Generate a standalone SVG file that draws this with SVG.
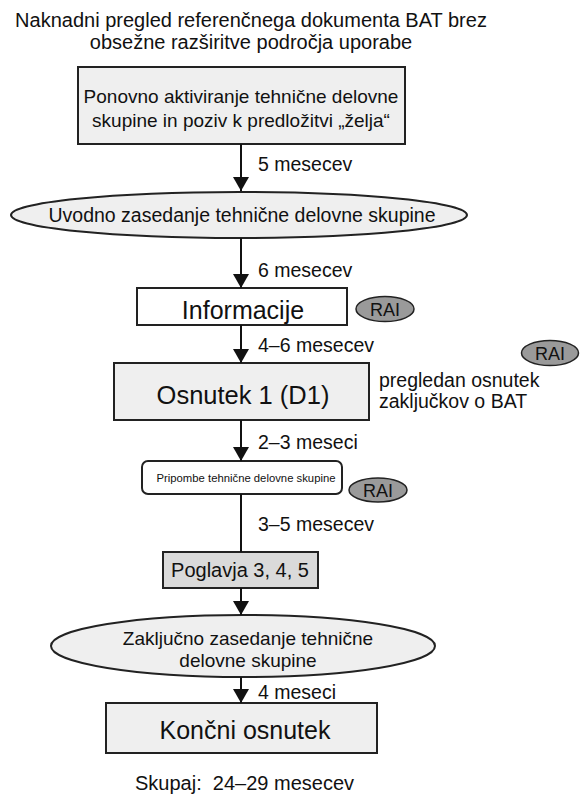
<svg xmlns="http://www.w3.org/2000/svg" width="585" height="794" viewBox="0 0 585 794">
<defs>
<marker id="ah" viewBox="0 0 14 16" refX="14" refY="8" markerWidth="14" markerHeight="16" markerUnits="userSpaceOnUse" orient="auto">
<path d="M0,0 L14,8 L0,16 z" fill="#111"/>
</marker>
<style>
text{font-family:"Liberation Sans",Arial,sans-serif;fill:#111}
.c{text-anchor:middle}
.t19{font-size:19.5px}
.node{stroke:#222;stroke-width:2}
.lt{fill:#efefef}
.wh{fill:#fff}
.dk{fill:#dadada}
.rai{fill:#9a9a9a;stroke:#222;stroke-width:1.5}
.rt{font-size:18px}
.conn{stroke:#111;stroke-width:2;fill:none}
.pre{white-space:pre}
</style>
</defs>
<rect width="585" height="794" fill="#fff"/>
<g id="title">
<text class="c" x="251" y="27" font-size="20">Naknadni pregled referenčnega dokumenta BAT brez</text>
<text class="c" x="251" y="49" font-size="20">obsežne razširitve področja uporabe</text>
</g>
<g id="n1">
<rect class="node lt" x="78" y="67" width="327" height="77"/>
<text class="c" x="241" y="103" font-size="19">Ponovno aktiviranje tehnične delovne</text>
<text class="c" x="241" y="127" font-size="19">skupine in poziv k predložitvi „želja“</text>
</g>
<g id="n2">
<ellipse class="node lt" cx="239" cy="215" rx="228" ry="23"/>
<text class="c t19" x="242" y="222">Uvodno zasedanje tehnične delovne skupine</text>
</g>
<g id="n3">
<rect class="node wh" x="137" y="288" width="210" height="37"/>
<text class="c" x="243" y="319" font-size="25">Informacije</text>
</g>
<g id="rai1">
<ellipse class="rai" cx="385" cy="309" rx="29" ry="12.5"/>
<text class="c rt" x="385" y="315.5">RAI</text>
</g>
<g id="n4">
<rect class="node lt" x="114" y="363" width="255" height="57"/>
<text class="c" x="243" y="404" font-size="25.5">Osnutek 1 (D1)</text>
</g>
<g id="note">
<text class="t19" x="379" y="387">pregledan osnutek</text>
<text class="t19" x="379" y="408">zaključkov o BAT</text>
</g>
<g id="rai2">
<ellipse class="rai" cx="550" cy="353" rx="28.5" ry="12.5"/>
<text class="c rt" x="550" y="359.5">RAI</text>
</g>
<g id="n5">
<rect class="node wh" x="142" y="461" width="200" height="33" rx="6"/>
<text class="c" x="246" y="482" font-size="11.3">Pripombe tehnične delovne skupine</text>
</g>
<g id="rai3">
<ellipse class="rai" cx="378" cy="490" rx="29" ry="12"/>
<text class="c rt" x="378" y="496.5">RAI</text>
</g>
<g id="n6">
<rect class="node dk" x="163" y="552" width="155" height="36"/>
<text class="c" x="240" y="577" font-size="20">Poglavja 3, 4, 5</text>
</g>
<g id="n7">
<ellipse class="node lt" cx="243" cy="646" rx="192" ry="31"/>
<text class="c" x="248" y="645" font-size="19">Zaključno zasedanje tehnične</text>
<text class="c" x="248" y="667" font-size="19">delovne skupine</text>
</g>
<g id="n8">
<rect class="node lt" x="106" y="703" width="271" height="50"/>
<text class="c" x="245" y="739" font-size="25">Končni osnutek</text>
</g>
<g id="total">
<text class="pre" x="135" y="790" font-size="20" xml:space="preserve">Skupaj:  24–29 mesecev</text>
</g>
<g id="connectors">
<line class="conn" x1="241" y1="144" x2="241" y2="191" marker-end="url(#ah)"/>
<line class="conn" x1="241" y1="238" x2="241" y2="288" marker-end="url(#ah)"/>
<line class="conn" x1="241" y1="325" x2="241" y2="363" marker-end="url(#ah)"/>
<line class="conn" x1="241" y1="420" x2="241" y2="461" marker-end="url(#ah)"/>
<line class="conn" x1="241" y1="494" x2="241" y2="552"/>
<line class="conn" x1="241" y1="588" x2="241" y2="615" marker-end="url(#ah)"/>
<line class="conn" x1="241" y1="677" x2="241" y2="703" marker-end="url(#ah)"/>
<text class="t19" x="258" y="171">5 mesecev</text>
<text class="t19" x="258" y="277">6 mesecev</text>
<text class="t19" x="258" y="352">4–6 mesecev</text>
<text class="t19" x="258" y="449">2–3 meseci</text>
<text class="t19" x="258" y="531">3–5 mesecev</text>
<text class="t19" x="258" y="699">4 meseci</text>
</g>
</svg>
